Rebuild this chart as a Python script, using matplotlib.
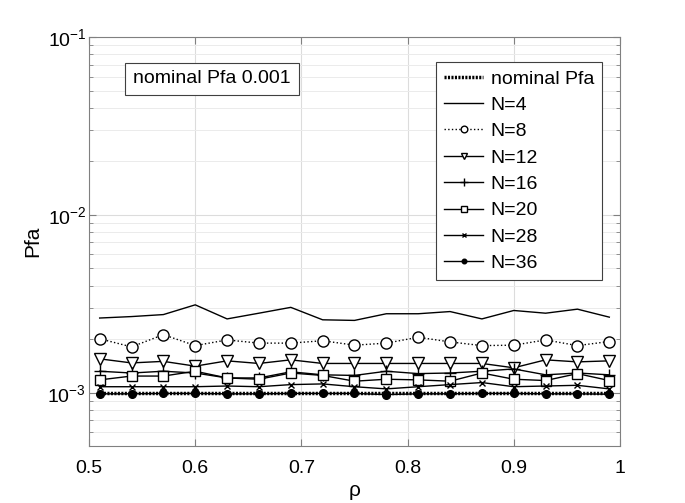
import numpy as np
import matplotlib.pyplot as plt
from matplotlib.ticker import LogLocator, NullFormatter

plt.rcParams['font.family'] = ['Liberation Sans', 'DejaVu Sans']
plt.rcParams['mathtext.fontset'] = 'custom'
plt.rcParams['mathtext.rm'] = 'Liberation Sans'

rho = [0.51, 0.54, 0.57, 0.60, 0.63, 0.66, 0.69, 0.72, 0.75,
       0.78, 0.81, 0.84, 0.87, 0.90, 0.93, 0.96, 0.99]

# Pfa values in units of 1e-3
nominal = [1.0] * 17
n4 = [2.63, 2.68, 2.75, 3.12, 2.60, 2.80, 3.02, 2.57, 2.55,
      2.78, 2.78, 2.86, 2.60, 2.90, 2.80, 2.95, 2.66]
n8 = [2.01, 1.81, 2.12, 1.84, 1.98, 1.90, 1.90, 1.96, 1.85,
      1.90, 2.05, 1.93, 1.84, 1.85, 1.98, 1.84, 1.94]
n12 = [1.55, 1.47, 1.50, 1.41, 1.51, 1.46, 1.53, 1.46, 1.46,
       1.46, 1.46, 1.46, 1.46, 1.38, 1.53, 1.49, 1.51]
n16 = [1.32, 1.29, 1.32, 1.29, 1.21, 1.21, 1.31, 1.26, 1.25,
       1.32, 1.28, 1.29, 1.32, 1.36, 1.26, 1.29, 1.26]
n20 = [1.18, 1.24, 1.24, 1.32, 1.21, 1.19, 1.29, 1.25, 1.16,
       1.19, 1.18, 1.16, 1.29, 1.19, 1.17, 1.28, 1.17]
n28 = [1.08, 1.08, 1.08, 1.08, 1.09, 1.08, 1.11, 1.12, 1.08,
       1.05, 1.08, 1.11, 1.14, 1.08, 1.09, 1.10, 1.05]
n36 = [0.985, 0.985, 0.99, 0.99, 0.985, 0.985, 0.99, 0.99, 0.99,
       0.975, 0.985, 0.985, 0.99, 0.99, 0.985, 0.985, 0.98]

x = np.array(rho)
s = 1e-3

fig = plt.figure(figsize=(6.85, 5.03), dpi=100)
ax = fig.add_axes([0.130, 0.113, 0.775, 0.813])

ax.plot(x, np.array(nominal) * s, color='k', lw=2.5, ls=(0, (0.6, 0.4)),
        label='nominal Pfa', zorder=4)
ax.plot(x, np.array(n4) * s, color='k', lw=1, label='N=4')
ax.plot(x, np.array(n8) * s, color='k', lw=1, ls=':', marker='o', ms=8,
        mfc='white', label='N=8')
ax.plot(x, np.array(n12) * s, color='k', lw=1, marker='v', ms=8,
        mfc='white', label='N=12')
ax.plot(x, np.array(n16) * s, color='k', lw=1, marker='+', ms=9,
        label='N=16')
ax.plot(x, np.array(n20) * s, color='k', lw=1, marker='s', ms=6.5,
        mfc='white', label='N=20')
ax.plot(x, np.array(n28) * s, color='k', lw=1, marker='x', ms=5,
        label='N=28')
ax.plot(x, np.array(n36) * s, color='k', lw=1, marker='o', ms=5.5,
        label='N=36')

ax.set_yscale('log')
ax.set_xlim(0.5, 1)
ax.set_ylim(5e-4, 1e-1)
ax.set_xticks([0.5, 0.6, 0.7, 0.8, 0.9, 1])
ax.set_xticklabels(['0.5', '0.6', '0.7', '0.8', '0.9', '1'])
ax.yaxis.set_major_locator(LogLocator(base=10, numticks=10))
ax.yaxis.set_minor_locator(LogLocator(base=10, subs=np.arange(2, 10), numticks=10))
ax.yaxis.set_minor_formatter(NullFormatter())

ax.grid(True, which='major', color='#dcdcdc', lw=0.8)
ax.grid(True, which='minor', axis='y', color='#ebebeb', lw=0.7)
ax.set_axisbelow(True)

for sp in ax.spines.values():
    sp.set_color('#808080')
ax.tick_params(which='both', direction='in', top=True, right=True,
               colors='#808080', labelcolor='black', labelsize=14)
ax.tick_params(which='major', length=5)
ax.tick_params(which='minor', length=3)
ax.tick_params(axis='x', which='major', pad=10)
ax.tick_params(axis='y', which='major', pad=2, labelsize=14)

ax.set_xlabel('ρ', fontsize=15, labelpad=3)
ax.set_ylabel('Pfa', fontsize=15, labelpad=4)

ax.text(0.083, 0.919, 'nominal Pfa 0.001', transform=ax.transAxes, fontsize=14,
        va='top', ha='left',
        bbox=dict(boxstyle='square,pad=0.4', fc='white', ec='#404040', lw=0.8))

leg = ax.legend(loc='upper right', bbox_to_anchor=(0.966, 0.939), fontsize=14,
                fancybox=False, framealpha=1, edgecolor='#404040',
                borderaxespad=0, handlelength=2.0, markerscale=0.6,
                borderpad=0.4, labelspacing=0.45, handletextpad=0.4)
leg.get_frame().set_linewidth(0.8)

fig.savefig('out.png', dpi=100)
